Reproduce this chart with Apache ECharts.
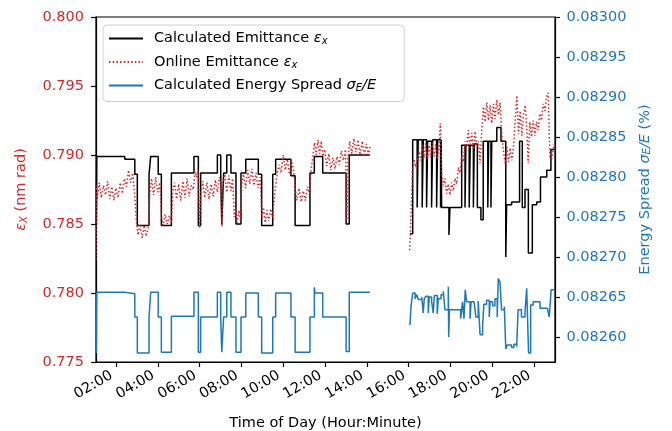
<!DOCTYPE html>
<html>
<head>
<meta charset="utf-8">
<script src="https://cdn.jsdelivr.net/npm/echarts@6/dist/echarts.min.js"></script>
<style>
  html, body { margin: 0; padding: 0; background: #fff; }
  #chart { width: 672px; height: 431px; }
</style>
</head>
<body>
<div id="chart"></div>
<script>
// Time of day in hours; a null value leaves the gap in the record (about 14:10 to 16:00).

// Calculated emittance (nm rad), held constant until the next change
const calcTime = [1.06, 1.08, 2.42, 2.90, 3.02, 3.58, 3.66, 4.02, 4.17, 4.65, 5.73, 5.94, 6.05, 6.85, 7.01, 7.06, 7.15, 7.30, 7.50, 7.74, 7.98, 8.21, 8.81, 8.97, 9.50, 9.64, 10.37, 10.57, 11.28, 11.49, 11.89, 13.01, 13.16, 14.15,
  14.16,
  16.067, 16.196, 16.41, 16.46, 16.65, 16.70, 16.86, 16.91, 17.10, 17.15, 17.34, 17.39, 17.53, 17.56, 17.58, 17.93, 17.98, 18.54, 18.70, 18.74, 18.90, 18.95, 19.10, 19.14, 19.29, 19.46, 19.57, 19.79, 19.83, 19.94, 19.98, 20.22, 20.42, 20.65, 20.69, 20.93, 21.31, 21.44, 21.57, 21.73, 21.92, 22.13, 22.31, 22.61, 22.81, 22.97];
const calcEmit = [0.7849, 0.7899, 0.7897, 0.7886, 0.7849, 0.7886, 0.7899, 0.7886, 0.7849, 0.7887, 0.7899, 0.7849, 0.7887, 0.7900, 0.7887, 0.7850, 0.7887, 0.7900, 0.7887, 0.7850, 0.7887, 0.7897, 0.7886, 0.7849, 0.7886, 0.7897, 0.7885, 0.7849, 0.7887, 0.7899, 0.7887, 0.7850, 0.7900, 0.7900,
  null,
  0.7843, 0.7911, 0.7862, 0.7911, 0.7862, 0.7911, 0.7862, 0.7910, 0.7862, 0.7911, 0.7862, 0.7911, 0.7862, 0.7911, 0.7862, 0.7842, 0.7862, 0.7907, 0.7862, 0.7907, 0.7862, 0.7907, 0.7862, 0.7908, 0.7862, 0.7853, 0.7910, 0.7862, 0.7910, 0.7862, 0.7910, 0.7920, 0.7910, 0.7826, 0.7864, 0.7866, 0.7910, 0.7862, 0.7875, 0.7829, 0.7864, 0.7866, 0.7884, 0.7889, 0.7904, 0.7904];

// Online emittance (nm rad), noisy readback
const onlineTime = [1.04, 1.07, 1.10, 1.20, 1.30, 1.40, 1.50, 1.60, 1.70, 1.80, 1.90, 2.00, 2.10, 2.20, 2.30, 2.40, 2.50, 2.60, 2.70, 2.80, 2.90, 2.98, 3.05, 3.15, 3.25, 3.35, 3.45, 3.55, 3.62, 3.70, 3.80, 3.90, 4.00, 4.10, 4.17, 4.25, 4.35, 4.45, 4.55, 4.65, 4.72, 4.80, 4.90, 5.00, 5.10, 5.20, 5.30, 5.40, 5.50, 5.60, 5.70, 5.78, 5.86, 5.94, 6.00, 6.06, 6.15, 6.25, 6.35, 6.45, 6.55, 6.65, 6.75, 6.85, 6.95, 7.03, 7.07, 7.12, 7.20, 7.30, 7.40, 7.50, 7.58, 7.66, 7.72, 7.80, 7.88, 7.96, 8.02, 8.10, 8.20, 8.30, 8.40, 8.50, 8.60, 8.70, 8.80, 8.90, 8.98, 9.06, 9.14, 9.22, 9.30, 9.40, 9.48, 9.56, 9.64, 9.72, 9.80, 9.90, 10.00, 10.10, 10.20, 10.30, 10.40, 10.50, 10.58, 10.66, 10.76, 10.86, 10.96, 11.06, 11.16, 11.26, 11.34, 11.42, 11.50, 11.58, 11.66, 11.74, 11.82, 11.90, 11.98, 12.08, 12.18, 12.28, 12.38, 12.48, 12.58, 12.68, 12.78, 12.88, 12.98, 13.05, 13.10, 13.18, 13.28, 13.38, 13.48, 13.58, 13.68, 13.78, 13.88, 13.98, 14.08, 14.15,
  15.00,
  16.05, 16.09, 16.14, 16.19, 16.26, 16.34, 16.42, 16.50, 16.58, 16.66, 16.74, 16.82, 16.90, 16.98, 17.06, 17.14, 17.22, 17.30, 17.38, 17.46, 17.52, 17.58, 17.66, 17.74, 17.82, 17.90, 17.98, 18.06, 18.14, 18.22, 18.30, 18.38, 18.46, 18.54, 18.62, 18.70, 18.78, 18.86, 18.94, 19.02, 19.10, 19.18, 19.26, 19.34, 19.42, 19.50, 19.58, 19.66, 19.74, 19.82, 19.90, 19.98, 20.06, 20.14, 20.22, 20.30, 20.38, 20.46, 20.54, 20.62, 20.70, 20.78, 20.86, 20.94, 21.02, 21.10, 21.18, 21.26, 21.34, 21.42, 21.50, 21.58, 21.66, 21.72, 21.80, 21.88, 21.96, 22.04, 22.12, 22.20, 22.28, 22.36, 22.44, 22.52, 22.60, 22.68, 22.76, 22.84, 22.92, 22.98];
const onlineEmit = [0.7824, 0.7878, 0.7868, 0.7880, 0.7869, 0.7878, 0.7871, 0.7881, 0.7868, 0.7877, 0.7867, 0.7876, 0.7869, 0.7880, 0.7872, 0.7883, 0.7877, 0.7889, 0.7880, 0.7887, 0.7870, 0.7851, 0.7842, 0.7850, 0.7840, 0.7849, 0.7841, 0.7848, 0.7872, 0.7883, 0.7871, 0.7884, 0.7873, 0.7880, 0.7856, 0.7849, 0.7857, 0.7850, 0.7856, 0.7851, 0.7874, 0.7880, 0.7868, 0.7879, 0.7867, 0.7881, 0.7869, 0.7883, 0.7870, 0.7878, 0.7875, 0.7888, 0.7884, 0.7889, 0.7847, 0.7872, 0.7881, 0.7869, 0.7880, 0.7868, 0.7879, 0.7870, 0.7882, 0.7873, 0.7884, 0.7878, 0.7848, 0.7880, 0.7886, 0.7873, 0.7885, 0.7874, 0.7883, 0.7855, 0.7861, 0.7851, 0.7860, 0.7853, 0.7879, 0.7886, 0.7876, 0.7889, 0.7879, 0.7890, 0.7878, 0.7887, 0.7876, 0.7884, 0.7855, 0.7862, 0.7851, 0.7860, 0.7852, 0.7861, 0.7855, 0.7866, 0.7878, 0.7887, 0.7893, 0.7887, 0.7900, 0.7889, 0.7897, 0.7886, 0.7896, 0.7888, 0.7875, 0.7867, 0.7876, 0.7866, 0.7874, 0.7867, 0.7877, 0.7872, 0.7890, 0.7899, 0.7909, 0.7900, 0.7911, 0.7901, 0.7910, 0.7899, 0.7904, 0.7892, 0.7901, 0.7889, 0.7898, 0.7890, 0.7899, 0.7893, 0.7903, 0.7896, 0.7904, 0.7853, 0.7898, 0.7910, 0.7901, 0.7912, 0.7902, 0.7911, 0.7900, 0.7910, 0.7899, 0.7908, 0.7900, 0.7906,
  null,
  0.7831, 0.7846, 0.7868, 0.7889, 0.7897, 0.7891, 0.7898, 0.7903, 0.7896, 0.7908, 0.7898, 0.7909, 0.7897, 0.7907, 0.7898, 0.7909, 0.7899, 0.7908, 0.7897, 0.7906, 0.7923, 0.7886, 0.7878, 0.7883, 0.7872, 0.7879, 0.7871, 0.7880, 0.7874, 0.7883, 0.7879, 0.7891, 0.7887, 0.7899, 0.7895, 0.7910, 0.7906, 0.7918, 0.7905, 0.7916, 0.7904, 0.7917, 0.7906, 0.7910, 0.7894, 0.7918, 0.7935, 0.7924, 0.7938, 0.7925, 0.7936, 0.7923, 0.7937, 0.7926, 0.7940, 0.7929, 0.7938, 0.7915, 0.7902, 0.7894, 0.7906, 0.7895, 0.7905, 0.7896, 0.7906, 0.7925, 0.7943, 0.7915, 0.7932, 0.7914, 0.7930, 0.7936, 0.7917, 0.7894, 0.7924, 0.7913, 0.7925, 0.7914, 0.7924, 0.7918, 0.7930, 0.7925, 0.7937, 0.7932, 0.7942, 0.7945, 0.7899, 0.7897, 0.7904, 0.7909];

// Calculated energy spread sigma_E/E (%), held constant until the next change
const spreadTime = [1.06, 1.08, 2.42, 2.90, 3.02, 3.58, 3.66, 4.02, 4.17, 4.65, 5.73, 5.94, 6.05, 6.85, 7.01, 7.06, 7.15, 7.30, 7.50, 7.74, 7.98, 8.21, 8.81, 8.97, 9.50, 9.64, 10.37, 10.57, 11.28, 11.49, 11.52, 11.89, 13.01, 13.16, 14.15,
  14.16,
  16.067, 16.115, 16.196, 16.31, 16.39, 16.46, 16.63, 16.70, 16.75, 16.83, 16.94, 16.99, 17.10, 17.18, 17.23, 17.37, 17.42, 17.55, 17.66, 17.74, 17.90, 17.92, 17.95, 18.49, 18.58, 18.65, 18.71, 18.78, 18.94, 18.99, 19.13, 19.22, 19.33, 19.42, 19.54, 19.60, 19.73, 19.86, 19.90, 20.02, 20.13, 20.24, 20.29, 20.37, 20.45, 20.58, 20.65, 20.72, 20.93, 21.04, 21.17, 21.24, 21.40, 21.57, 21.65, 21.74, 21.84, 21.96, 22.29, 22.64, 22.73, 22.82, 22.97];
const spreadVal = [0.082580, 0.082656, 0.082654, 0.082625, 0.082580, 0.082625, 0.082656, 0.082625, 0.082581, 0.082626, 0.082656, 0.082581, 0.082625, 0.082656, 0.082625, 0.082581, 0.082625, 0.082656, 0.082625, 0.082581, 0.082625, 0.082655, 0.082625, 0.082580, 0.082625, 0.082655, 0.082625, 0.082581, 0.082625, 0.082662, 0.082655, 0.082625, 0.082582, 0.082656, 0.082656,
  null,
  0.082615, 0.082638, 0.082655, 0.082648, 0.082653, 0.082647, 0.082650, 0.082630, 0.082648, 0.082651, 0.082630, 0.082650, 0.082645, 0.082630, 0.082652, 0.082629, 0.082648, 0.082653, 0.082657, 0.082634, 0.082663, 0.082600, 0.082634, 0.082623, 0.082644, 0.082623, 0.082659, 0.082644, 0.082623, 0.082644, 0.082642, 0.082625, 0.082645, 0.082603, 0.082613, 0.082641, 0.082646, 0.082625, 0.082644, 0.082639, 0.082648, 0.082625, 0.082673, 0.082669, 0.082634, 0.082638, 0.082585, 0.082590, 0.082587, 0.082591, 0.082588, 0.082634, 0.082625, 0.082631, 0.082661, 0.082580, 0.082640, 0.082644, 0.082636, 0.082637, 0.082625, 0.082659, 0.082659];

// Axis ticks
const hourTicks = [2, 4, 6, 8, 10, 12, 14, 16, 18, 20, 22];
const hourTickLabels = ['02:00', '04:00', '06:00', '08:00', '10:00', '12:00', '14:00', '16:00', '18:00', '20:00', '22:00'];
const emitTicks = [0.775, 0.780, 0.785, 0.790, 0.795, 0.800];
const spreadTicks = [0.08260, 0.08265, 0.08270, 0.08275, 0.08280, 0.08285, 0.08290, 0.08295, 0.08300];

const RED = '#d62728', BLUE = '#1f77b4', FONT = 'DejaVu Sans', FS = 14.5;

const pairs = (xs, ys) => xs.map((x, i) => [x, ys[i] === null ? '-' : ys[i]]);

const chart = echarts.init(document.getElementById('chart'), null, { renderer: 'canvas' });

const legendNames = {
  'Calculated Emittance': 'Calculated Emittance {it|ε}{sub|x}',
  'Online Emittance': 'Online Emittance {it|ε}{sub|x}',
  'Calculated Energy Spread': 'Calculated Energy Spread {it|σ}{sub|E}{it|/E}'
};

const mathRich = color => ({
  it: { fontFamily: FONT, fontSize: FS, fontStyle: 'italic', color },
  sub: { fontFamily: FONT, fontSize: 10, fontStyle: 'italic', color, verticalAlign: 'bottom', padding: [6, 0, 0, 0] }
});

chart.setOption({
  animation: false,
  backgroundColor: '#fff',
  textStyle: { fontFamily: FONT },
  grid: {
    left: 96, right: 117, top: 17, bottom: 69,
    outerBoundsMode: 'none', containLabel: false,
    show: true, borderColor: '#000', borderWidth: 1.2
  },
  legend: {
    left: 103, top: 25, orient: 'vertical',
    padding: [6, 28, 8, 5], itemGap: 8, itemWidth: 34, itemHeight: 15.5,
    backgroundColor: 'rgba(255,255,255,0.8)', borderColor: '#d0d0d0', borderWidth: 1, borderRadius: 4,
    itemStyle: { opacity: 0 },
    data: ['Calculated Emittance', 'Online Emittance', 'Calculated Energy Spread'],
    formatter: n => legendNames[n],
    textStyle: {
      fontFamily: FONT, fontSize: FS, color: '#000', padding: [0, 0, 0, 6],
      rich: mathRich('#000')
    }
  },
  xAxis: {
    type: 'value', min: 1.043, max: 23.005,
    name: 'Time of Day (Hour:Minute)', nameLocation: 'middle', nameGap: 54,
    nameTextStyle: { fontFamily: FONT, fontSize: FS, color: '#000' },
    axisLine: { show: true, lineStyle: { color: '#000', width: 1.2 } },
    axisTick: { show: true, length: 5, lineStyle: { color: '#000', width: 1.2 }, customValues: hourTicks },
    axisLabel: {
      customValues: hourTicks, rotate: 30, margin: 10, padding: [0, 5, 0, 0],
      fontFamily: FONT, fontSize: FS, color: '#000',
      formatter: v => hourTickLabels[hourTicks.indexOf(v)] ?? ''
    },
    splitLine: { show: false }
  },
  yAxis: [
    {
      type: 'value', min: 0.775, max: 0.800, interval: 0.005, position: 'left',
      name: '{it|ε}{sub|X} (nm rad)', nameLocation: 'middle', nameRotate: 90, nameGap: 67,
      nameTextStyle: { fontFamily: FONT, fontSize: FS, color: RED, rich: mathRich(RED) },
      axisLine: { show: true, lineStyle: { color: '#000', width: 1.2 } },
      axisTick: { show: true, length: 5, lineStyle: { color: '#000', width: 1.2 }, customValues: emitTicks },
      axisLabel: { customValues: emitTicks, fontFamily: FONT, fontSize: FS, color: RED, margin: 12, formatter: v => v.toFixed(3) },
      splitLine: { show: false }
    },
    {
      type: 'value', min: 0.0825688, max: 0.083, position: 'right',
      name: 'Energy Spread {it|σ}{sub|E}{it|/E} (%)', nameLocation: 'middle', nameRotate: 90, nameGap: 80,
      nameTextStyle: { fontFamily: FONT, fontSize: FS, color: BLUE, rich: mathRich(BLUE) },
      axisLine: { show: true, lineStyle: { color: '#000', width: 1.2 } },
      axisTick: { show: true, length: 5, lineStyle: { color: '#000', width: 1.2 }, customValues: spreadTicks },
      axisLabel: { customValues: spreadTicks, fontFamily: FONT, fontSize: FS, color: BLUE, margin: 11.5, formatter: v => v.toFixed(5) },
      splitLine: { show: false }
    }
  ],
  series: [
    {
      name: 'Calculated Emittance', type: 'line', yAxisIndex: 0, step: 'end',
      data: pairs(calcTime, calcEmit), showSymbol: false, symbol: 'none',
      lineStyle: { color: '#000', width: 1.5 }, itemStyle: { color: '#000' }, connectNulls: false
    },
    {
      name: 'Online Emittance', type: 'line', yAxisIndex: 0,
      data: pairs(onlineTime, onlineEmit), showSymbol: false, symbol: 'none',
      lineStyle: { color: RED, width: 1.5, type: [1.5, 2.2] }, itemStyle: { color: RED }, connectNulls: false
    },
    {
      name: 'Calculated Energy Spread', type: 'line', yAxisIndex: 1, step: 'end',
      data: pairs(spreadTime, spreadVal), showSymbol: false, symbol: 'none',
      lineStyle: { color: BLUE, width: 1.5 }, itemStyle: { color: BLUE }, connectNulls: false
    }
  ]
});
</script>
</body>
</html>
